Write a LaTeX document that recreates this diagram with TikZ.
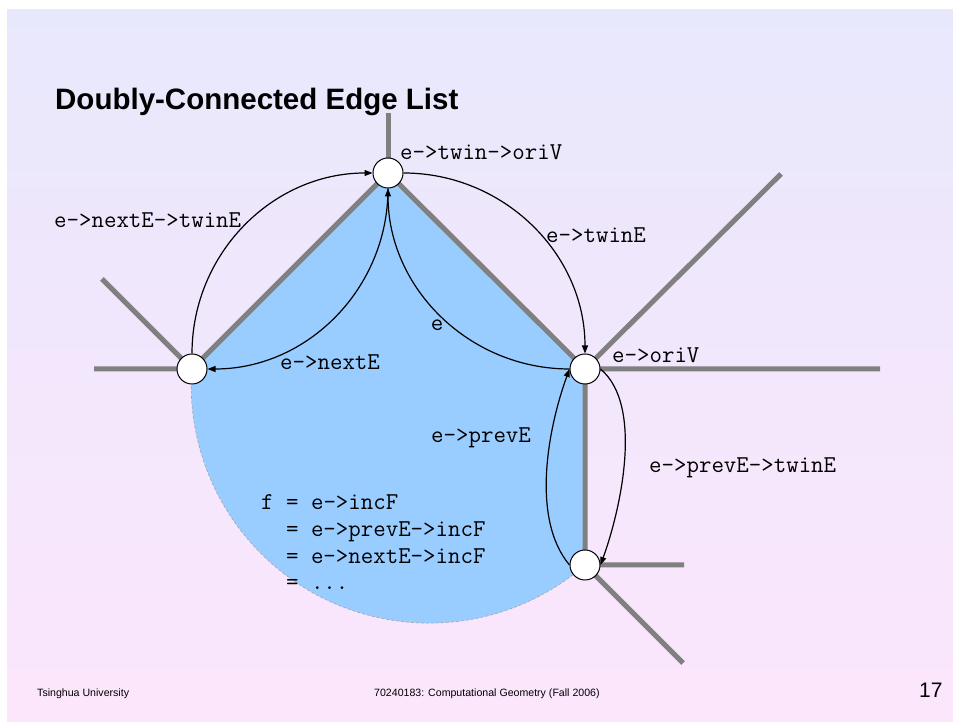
\documentclass[tikz,border=0pt]{standalone}
\usepackage{fontspec}
\setmainfont{Liberation Sans}
\usetikzlibrary{arrows.meta,positioning}
\definecolor{bgtop}{HTML}{E8E8FC}
\definecolor{bgbot}{HTML}{FCE6FC}
\definecolor{facefill}{HTML}{99CCFF}
\definecolor{edgegray}{HTML}{808080}

\begin{document}
\begin{tikzpicture}[x=1pt,y=1pt,
    v/.style={circle,draw,fill=white,line width=1pt,minimum size=30pt,inner sep=0pt},
    lbl/.style={font=\ttfamily\fontsize{24.2}{26.7}\selectfont,inner sep=0pt,anchor=west},
    hedge/.style={-{Triangle[length=8pt,width=6pt]},line width=1.2pt},
    seg/.style={draw=edgegray,line width=5pt}]
  \useasboundingbox (0,0) rectangle (953,722);
  \shade[top color=bgtop,bottom color=bgbot] (7,0) rectangle (953,712);

  \node[font=\bfseries\fontsize{29.5}{34}\selectfont,anchor=base west,inner sep=0pt]
    (title) at (55,612) {Doubly-Connected Edge List};

  % vertices of the face and the free ends of the outer edges
  \coordinate (p1) at (388,549);
  \coordinate (p2) at (192,353);
  \coordinate (p3) at (585,353);
  \coordinate (p4) at (585,157);
  \coordinate (o1) at (388,609);
  \coordinate (o2a) at (94,353);
  \coordinate (o2b) at (102,443);
  \coordinate (o3a) at (880,353);
  \coordinate (o3b) at (781,548);
  \coordinate (o4a) at (684,157);
  \coordinate (o4b) at (683,59);

  % the face f
  \fill[facefill] (p2) -- (p1) -- (p3) -- (p4)
    arc[start angle=-49.1,end angle=-183.9,radius=238] -- cycle;
  \draw[gray!70,line width=0.6pt,dash pattern=on 3pt off 2pt] (p4)
    arc[start angle=-49.1,end angle=-183.9,radius=238];

  \draw[seg] (p2) -- (p1) -- (p3) -- (p4);
  \draw[seg] (p1) -- (o1);
  \draw[seg] (o2a) -- (p2) -- (o2b);
  \draw[seg] (o3a) -- (p3) -- (o3b);
  \draw[seg] (o4a) -- (p4) -- (o4b);

  \node[v] (v1) at (p1) {};
  \node[v] (v2) at (p2) {};
  \node[v] (v3) at (p3) {};
  \node[v] (v4) at (p4) {};

  % half-edges
  \draw[hedge] (v2) to[out=90,in=180] (v1);
  \draw[hedge] (v1) to[out=0,in=90] (v3);
  \draw[hedge] (v3) to[out=180,in=270] (v1);
  \draw[hedge] (v1) to[out=270,in=0] (v2);
  \draw[hedge] (v4.west) to[out=130,in=250,looseness=0.8] (v3.west);
  \draw[hedge] (v3.east) to[out=-40,in=70,looseness=0.75] (v4.east);

  \node[lbl] (twinori) at (400,570) {e->twin->oriV};
  \node[lbl] (nexttwin) at (54,502) {e->nextE->twinE};
  \node[lbl] (twin) at (546,487) {e->twinE};
  \node[lbl,anchor=center] (elbl) at (437,397) {e};
  \node[lbl] (next) at (280,360) {e->nextE};
  \node[lbl] (ori) at (612,367) {e->oriV};
  \node[lbl] (prev) at (431,284) {e->prevE};
  \node[lbl] (prevtwin) at (649,254) {e->prevE->twinE};
  \node[lbl,anchor=base west,align=left] (incf) at (261,132)
    {f = e->incF\\\hphantom{f }= e->prevE->incF\\\hphantom{f }= e->nextE->incF\\\hphantom{f }= ...};

  \node[font=\fontsize{10.6}{12}\selectfont,anchor=base west,inner sep=0pt] (uni) at (37,25) {Tsinghua University};
  \node[font=\fontsize{10.6}{12}\selectfont,anchor=base west,inner sep=0pt] (course) at (374,25) {70240183: Computational Geometry (Fall 2006)};
  \node[font=\fontsize{21}{24}\selectfont,anchor=base west,inner sep=0pt] (page) at (919,24.5) {17};
\end{tikzpicture}
\end{document}
